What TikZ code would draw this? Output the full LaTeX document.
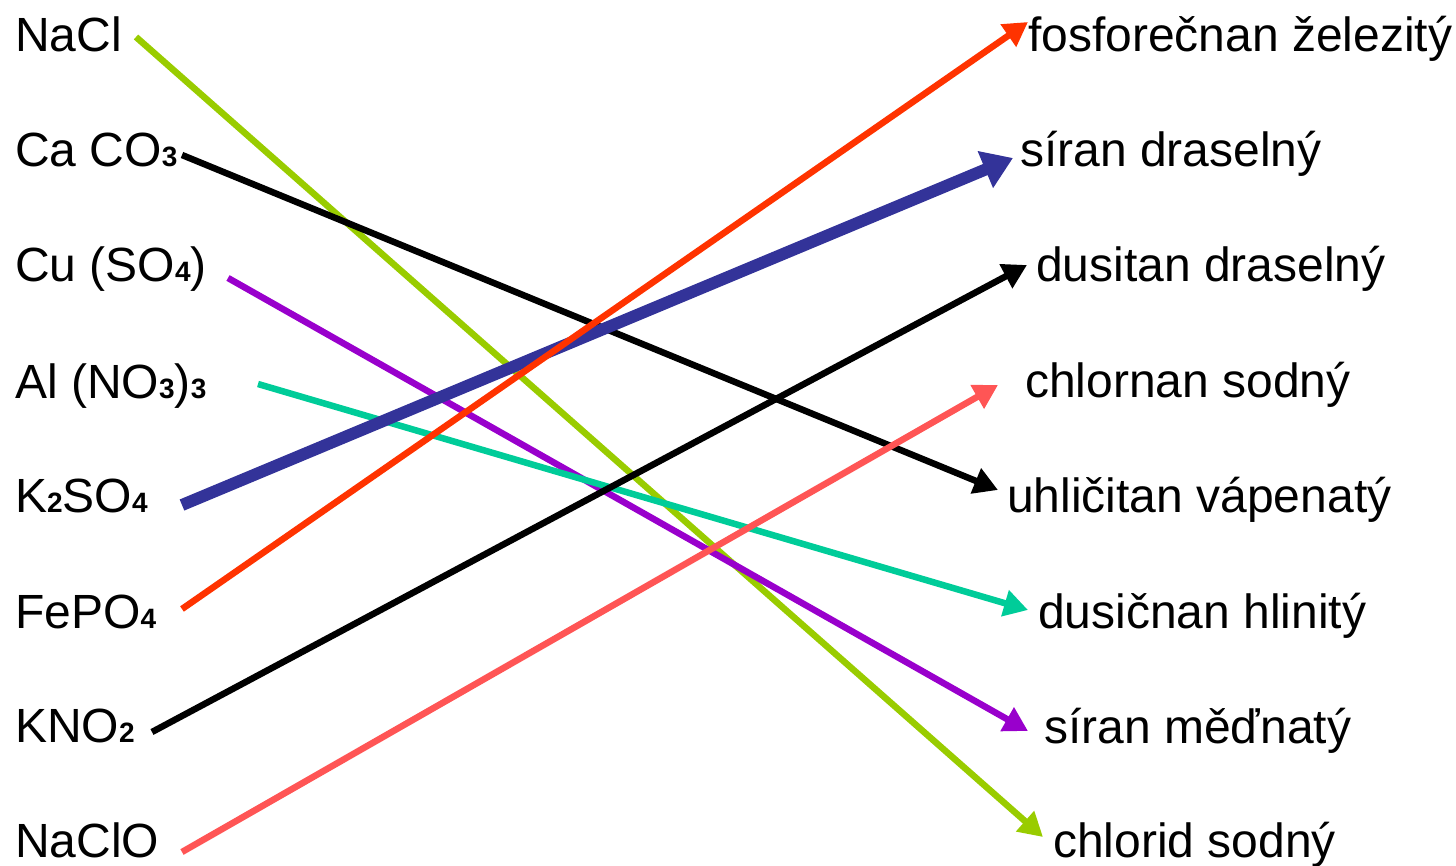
\documentclass[tikz,border=0pt]{standalone}
\usepackage{fontspec}
\setmainfont{Liberation Sans}
\usetikzlibrary{arrows.meta}
\newcommand{\sbs}[1]{{\fontsize{28}{28}\selectfont\bfseries #1}}
\definecolor{cgreen}{HTML}{99CC00}
\definecolor{cpurple}{HTML}{9900CC}
\definecolor{cteal}{HTML}{00CC99}
\definecolor{cblue}{HTML}{333399}
\definecolor{cred}{HTML}{FF3300}
\definecolor{csalmon}{HTML}{FF5555}
\begin{document}
\begin{tikzpicture}[x=1pt,y=-1pt,
  lbl/.style={anchor=base west, inner sep=0pt, font=\fontsize{48}{56}\selectfont},
  conn/.style={line width=6.5pt, -{Triangle[length=24pt,width=26pt]}},
  thickconn/.style={line width=12pt, -{Triangle[length=30pt,width=38pt]}}]
\useasboundingbox (0,0) rectangle (1456,866);
% left labels
\node[lbl] (nacl) at (15,52) {NaCl};
\node[lbl] (caco) at (15,167) {Ca CO\sbs{3}};
\node[lbl] (cuso) at (15,282) {Cu (SO\sbs{4})};
\node[lbl] (alno) at (15,398) {Al (NO\sbs{3})\sbs{3}};
\node[lbl] (kso) at (15,512) {K\sbs{2}SO\sbs{4}};
\node[lbl] (fepo) at (15,628) {FePO\sbs{4}};
\node[lbl] (kno) at (15,742) {KNO\sbs{2}};
\node[lbl] (naclo) at (15,857) {NaClO};
% right labels
\node[lbl] (fosf) at (1028,52) {fosforečnan železitý};
\node[lbl] (sirk) at (1020,167) {síran draselný};
\node[lbl] (dusk) at (1036,282) {dusitan draselný};
\node[lbl] (chlor) at (1025,397) {chlornan sodný};
\node[lbl] (uhli) at (1007,512) {uhličitan vápenatý};
\node[lbl] (dusal) at (1038,628) {dusičnan hlinitý};
\node[lbl] (sircu) at (1044,743) {síran měďnatý};
\node[lbl] (chlorid) at (1053,857) {chlorid sodný};
% connector ends
\coordinate (nacl-o) at (136,37);
\coordinate (caco-o) at (182,155);
\coordinate (cuso-o) at (228,278);
\coordinate (alno-o) at (258,384);
\coordinate (kso-o) at (182,505);
\coordinate (fepo-o) at (182,609);
\coordinate (kno-o) at (152,732);
\coordinate (naclo-o) at (182,852);
\coordinate (fosf-i) at (1028,22);
\coordinate (sirk-i) at (1013,158);
\coordinate (dusk-i) at (1027,265);
\coordinate (chlor-i) at (998,385);
\coordinate (uhli-i) at (998,490);
\coordinate (dusal-i) at (1028,610);
\coordinate (sircu-i) at (1028,731);
\coordinate (chlorid-i) at (1043,837);
% connectors
\draw[conn, cgreen] (nacl-o) -- (chlorid-i);
\draw[conn, black] (caco-o) -- (uhli-i);
\draw[conn, cpurple] (cuso-o) -- (sircu-i);
\draw[conn, cteal] (alno-o) -- (dusal-i);
\draw[thickconn, cblue] (kso-o) -- (sirk-i);
\draw[conn, cred] (fepo-o) -- (fosf-i);
\draw[conn, black] (kno-o) -- (dusk-i);
\draw[conn, csalmon] (naclo-o) -- (chlor-i);
\end{tikzpicture}
\end{document}
